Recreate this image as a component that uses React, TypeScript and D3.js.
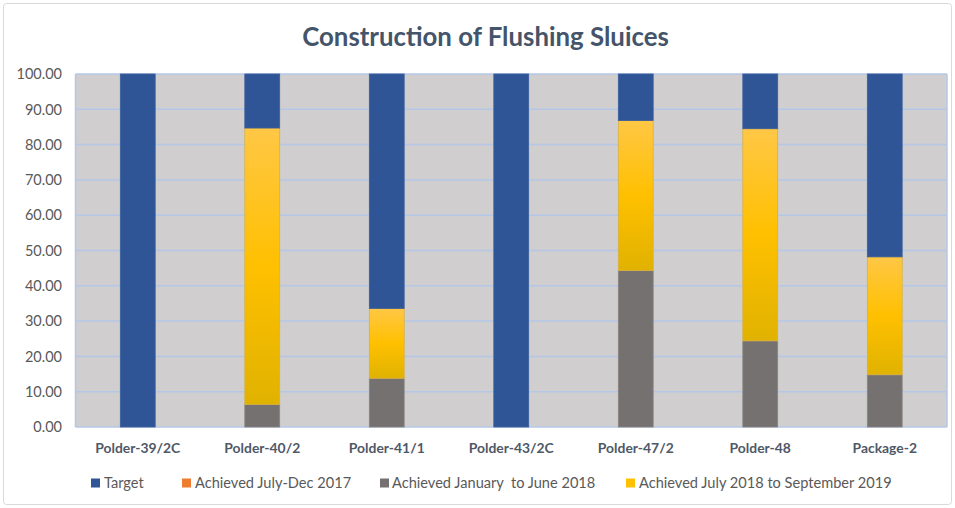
import React from "react";
import * as d3 from "d3";

const categories = ["Polder-39/2C", "Polder-40/2", "Polder-41/1", "Polder-43/2C", "Polder-47/2", "Polder-48", "Package-2"];
const seriesNames = ["Target", "Achieved July-Dec 2017", "Achieved January  to June 2018", "Achieved July 2018 to September 2019"];
const achievedJan2018 = [0, 6.4, 13.8, 0, 44.3, 24.4, 14.8];
const achievedJulDec2017 = [0, 0, 0, 0, 0, 0, 0];
const achievedJul2018Sep2019 = [0, 78.3, 19.8, 0, 42.5, 60.1, 33.4];
const target = [100, 15.3, 66.4, 100, 13.2, 15.5, 51.8];
const yTicks = [0, 10, 20, 30, 40, 50, 60, 70, 80, 90, 100];

const W = 955, H = 508;
const M = { left: 75.5, right: 947, top: 74, bottom: 427 };
const FONT = "Lato, 'Open Sans', sans-serif";

export default function App() {
  const x = d3.scaleBand<string>().domain(categories).range([M.left, M.right]).paddingInner(0.72).paddingOuter(0.36);
  const y = d3.scaleLinear().domain([0, 100]).range([M.bottom, M.top]);

  const rows = categories.map((c, i) => ({
    cat: c,
    jan18: achievedJan2018[i],
    jul17: achievedJulDec2017[i],
    jul18: achievedJul2018Sep2019[i],
    target: target[i],
  }));
  const keys = ["jan18", "jul17", "jul18", "target"];
  const stack = d3.stack<any>().keys(keys)(rows);
  const fills: Record<string, string> = {
    target: "#2f5597",
    jul17: "#ed7d31",
    jan18: "#767171",
    jul18: "url(#yellowGrad)",
  };
  const strokes: Record<string, string> = {
    target: "#3a5f9c",
    jul17: "#ed7d31",
    jan18: "#8a8580",
    jul18: "#d8b040",
  };

  const legendItems = [
    { name: seriesNames[0], color: "#2f5597", sx: 91, tx: 104 },
    { name: seriesNames[1], color: "#ed7d31", sx: 182, tx: 195 },
    { name: seriesNames[2], color: "#767171", sx: 380, tx: 392 },
    { name: seriesNames[3], color: "#ffc000", sx: 626, tx: 639 },
  ];

  return (
    <svg width={W} height={H} style={{ position: "absolute", left: 0, top: 0, background: "#fff" }}>
      <defs>
        <linearGradient id="yellowGrad" x1="0" y1="0" x2="0" y2="1">
          <stop offset="0" stopColor="#ffc746" />
          <stop offset="0.5" stopColor="#ffc000" />
          <stop offset="1" stopColor="#e0b200" />
        </linearGradient>
      </defs>
      <rect x={3.5} y={3.5} width={W - 7} height={H - 7} rx={3} fill="#fff" stroke="#d9d9d9" strokeWidth={1} />
      <text x={485.5} y={45.5} textAnchor="middle" fontFamily={FONT} fontWeight="bold" fontSize={25.8} fill="#44546a">
        Construction of Flushing Sluices
      </text>
      <rect x={M.left} y={M.top} width={M.right - M.left} height={M.bottom - M.top} fill="#d0cece" />
      {yTicks.map((t) => (
        <g key={t}>
          <line x1={M.left} x2={M.right} y1={y(t)} y2={y(t)} stroke="#b4c7e7" strokeWidth={1.5} />
          <text x={62} y={y(t) + 5.2} textAnchor="end" fontFamily={FONT} fontSize={14.5} fill="#595959">
            {t.toFixed(2)}
          </text>
        </g>
      ))}
      <line x1={M.left} x2={M.left} y1={M.top} y2={M.bottom} stroke="#b4c7e7" strokeWidth={1.5} />
      <line x1={M.right} x2={M.right} y1={M.top} y2={M.bottom} stroke="#b4c7e7" strokeWidth={1.5} />
      {stack.map((layer) =>
        layer.map((d, i) => {
          const h = y(d[0]) - y(d[1]);
          if (h <= 0) return null;
          return (
            <rect
              key={layer.key + i}
              x={x(categories[i])!}
              y={y(d[1])}
              width={x.bandwidth()}
              height={h}
              fill={fills[layer.key]}
              stroke={strokes[layer.key]}
              strokeWidth={0.8}
            />
          );
        })
      )}
      {categories.map((c) => (
        <text key={c} x={x(c)! + x.bandwidth() / 2} y={453} textAnchor="middle" fontFamily={FONT} fontWeight="bold" fontSize={13.9} fill="#4f5867">
          {c}
        </text>
      ))}
      {legendItems.map((l) => (
        <g key={l.name}>
          <rect x={l.sx} y={478.5} width={9} height={9} fill={l.color} />
          <text x={l.tx} y={488} fontFamily={FONT} fontSize={14.6} fill="#595959" style={{ whiteSpace: "pre" }}>
            {l.name}
          </text>
        </g>
      ))}
    </svg>
  );
}
